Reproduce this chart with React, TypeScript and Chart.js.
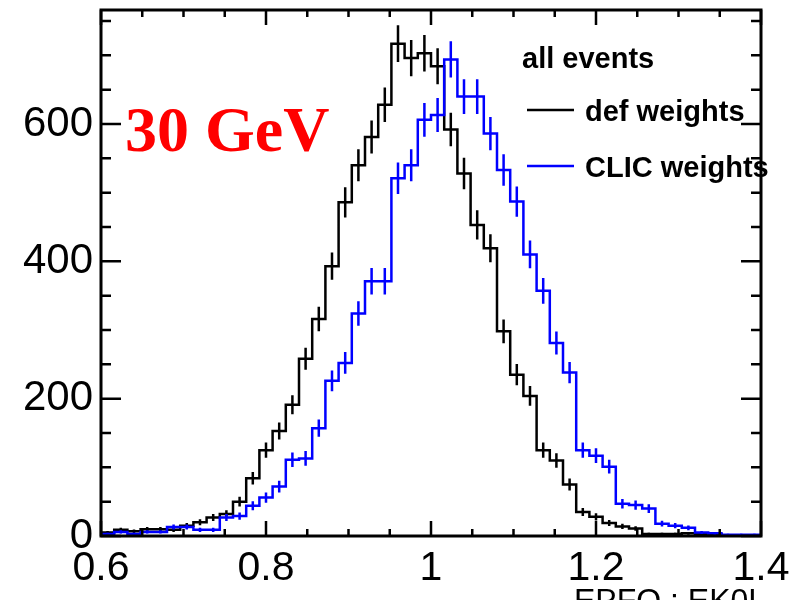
import React, { useEffect, useRef } from 'react';
import { Chart, registerables } from 'chart.js';

Chart.register(...registerables);

// Histogram definition: 50 bins between 0.6 and 1.4
const X_MIN = 0.6;
const X_MAX = 1.4;
const N_BINS = 50;
const Y_MAX = 766;

// Bin contents (bin 0 = 0.600-0.616 ... bin 49 = 1.384-1.400)
const DEF_WEIGHTS = [
  5, 9, 7, 10, 10, 9, 15, 20, 27, 32,
  50, 84, 125, 153, 191, 258, 316, 393, 486, 540,
  581, 628, 717, 696, 703, 684, 592, 528, 453, 419,
  298, 235, 204, 125, 110, 75, 35, 28, 19, 14,
  11, 3, 3, 3, 4, 3, 3, 1, 1, 1,
];
const CLIC_WEIGHTS = [
  3, 6, 3, 6, 6, 13, 13, 9, 9, 27,
  29, 44, 56, 72, 111, 113, 157, 226, 252, 324,
  371, 371, 521, 540, 606, 613, 694, 640, 640, 586,
  533, 487, 410, 357, 281, 238, 125, 117, 101, 47,
  45, 40, 18, 15, 12, 5, 4, 2, 2, 2,
];

const X_MAJOR_TICKS = [0.6, 0.8, 1.0, 1.2, 1.4];
const X_MINOR_TICKS = [0.65, 0.7, 0.75, 0.85, 0.9, 0.95, 1.05, 1.1, 1.15, 1.25, 1.3, 1.35];
const Y_MAJOR_TICKS = [0, 200, 400, 600];
const Y_MINOR_TICKS = [50, 100, 150, 250, 300, 350, 450, 500, 550, 650, 700, 750];

const LEGEND_TITLE = 'all events';
const SERIES_LABELS = ['def weights', 'CLIC weights'];
const SERIES_COLORS = ['#000000', '#0000ff'];
const ENERGY_LABEL = '30 GeV';
const X_TITLE = 'EPFO : EK0L';

const BIN_W = (X_MAX - X_MIN) / N_BINS;
const LINE_W = 2.5;

function stepData(vals: number[]) {
  const pts = vals.map((v, i) => ({ x: X_MIN + i * BIN_W, y: v }));
  pts.push({ x: X_MAX, y: vals[vals.length - 1] });
  return pts;
}

// Poisson (sqrt N) error bars, as drawn by ROOT
function errData(vals: number[]) {
  const pts: { x: number; y: number | null }[] = [];
  vals.forEach((v, i) => {
    const c = X_MIN + (i + 0.5) * BIN_W;
    const e = Math.sqrt(v);
    pts.push({ x: c, y: v - e }, { x: c, y: v + e }, { x: c, y: null });
  });
  return pts;
}

const decorPlugin = {
  id: 'decor',
  afterDatasetsDraw(chart: any) {
    const { ctx, chartArea: a, scales } = chart;
    const xs = scales.x;
    const ys = scales.y;
    ctx.save();
    ctx.strokeStyle = '#000';
    ctx.lineWidth = 2.5;
    ctx.beginPath();
    const xt = (v: number, len: number) => {
      const px = xs.getPixelForValue(v);
      ctx.moveTo(px, a.bottom);
      ctx.lineTo(px, a.bottom - len);
      ctx.moveTo(px, a.top);
      ctx.lineTo(px, a.top + len);
    };
    const yt = (v: number, len: number) => {
      const py = ys.getPixelForValue(v);
      ctx.moveTo(a.left, py);
      ctx.lineTo(a.left + len, py);
      ctx.moveTo(a.right, py);
      ctx.lineTo(a.right - len, py);
    };
    X_MAJOR_TICKS.forEach((v) => xt(v, 15));
    X_MINOR_TICKS.forEach((v) => xt(v, 7));
    Y_MAJOR_TICKS.forEach((v) => yt(v, 20));
    Y_MINOR_TICKS.forEach((v) => yt(v, 10));
    ctx.stroke();

    ctx.lineWidth = 3;
    ctx.strokeRect(a.left, a.top, a.right - a.left, a.bottom - a.top);

    // legend (no box, ROOT style)
    ctx.fillStyle = '#000';
    ctx.font = 'bold 29px "Liberation Sans", Arial, sans-serif';
    ctx.textBaseline = 'alphabetic';
    ctx.textAlign = 'left';
    ctx.fillText(LEGEND_TITLE, 522, 68);
    const rows = [110, 166];
    SERIES_LABELS.forEach((lab, i) => {
      ctx.strokeStyle = SERIES_COLORS[i];
      ctx.lineWidth = 2.5;
      ctx.beginPath();
      ctx.moveTo(527, rows[i]);
      ctx.lineTo(574, rows[i]);
      ctx.stroke();
      ctx.fillStyle = '#000';
      ctx.fillText(lab, 585, rows[i] + 11);
    });

    // energy label
    ctx.fillStyle = '#ff0000';
    ctx.font = 'bold 64px "Liberation Serif", "Times New Roman", serif';
    ctx.fillText(ENERGY_LABEL, 125, 151);

    // x-axis title, cut by the bottom of the picture
    ctx.fillStyle = '#000';
    ctx.font = '32px "Liberation Sans", Arial, sans-serif';
    ctx.fillText(X_TITLE, 574, 611);
    ctx.restore();
  },
};

export default function App() {
  const ref = useRef<HTMLCanvasElement | null>(null);
  useEffect(() => {
    if (!ref.current) return;
    const hist = (i: number) => ({
      borderColor: SERIES_COLORS[i],
      borderWidth: LINE_W,
      pointRadius: 0,
      fill: false,
    });
    const chart = new Chart(ref.current, {
      type: 'line',
      data: {
        datasets: [
          { label: SERIES_LABELS[1], data: stepData(CLIC_WEIGHTS), stepped: true, ...hist(1) },
          { label: SERIES_LABELS[1] + ' err', data: errData(CLIC_WEIGHTS), spanGaps: false, ...hist(1) },
          { label: SERIES_LABELS[0], data: stepData(DEF_WEIGHTS), stepped: true, ...hist(0) },
          { label: SERIES_LABELS[0] + ' err', data: errData(DEF_WEIGHTS), spanGaps: false, ...hist(0) },
        ] as any,
      },
      options: {
        animation: false,
        responsive: false,
        devicePixelRatio: 1,
        layout: { padding: { left: 0, top: 10, right: 40, bottom: 0 } },
        plugins: { legend: { display: false }, tooltip: { enabled: false } },
        scales: {
          x: {
            type: 'linear',
            min: X_MIN,
            max: X_MAX,
            grid: { display: false },
            border: { display: false },
            afterBuildTicks: (s: any) => {
              s.ticks = X_MAJOR_TICKS.map((v) => ({ value: v }));
            },
            afterFit: (s: any) => {
              s.height = 64;
              s.paddingLeft = 0;
              s.paddingRight = 0;
            },
            ticks: {
              color: '#000',
              font: { family: '"Liberation Sans", Arial, sans-serif', size: 41 },
              padding: 0,
              maxRotation: 0,
              autoSkip: false,
              callback: (v: any) => String(Math.round(Number(v) * 10) / 10),
            },
          },
          y: {
            type: 'linear',
            min: 0,
            max: Y_MAX,
            grid: { display: false },
            border: { display: false },
            afterBuildTicks: (s: any) => {
              s.ticks = Y_MAJOR_TICKS.map((v) => ({ value: v }));
            },
            afterFit: (s: any) => {
              s.width = 101;
              s.paddingTop = 0;
              s.paddingBottom = 0;
            },
            ticks: {
              color: '#000',
              font: { family: '"Liberation Sans", Arial, sans-serif', size: 42 },
              padding: 0,
              autoSkip: false,
              callback: (v: any) => String(v),
            },
          },
        },
      } as any,
      plugins: [decorPlugin],
    });
    return () => chart.destroy();
  }, []);
  return (
    <div style={{ position: 'absolute', left: 0, top: 0, width: 801, height: 600, background: '#fff' }}>
      <canvas ref={ref} width={801} height={600} style={{ display: 'block' }} />
    </div>
  );
}
